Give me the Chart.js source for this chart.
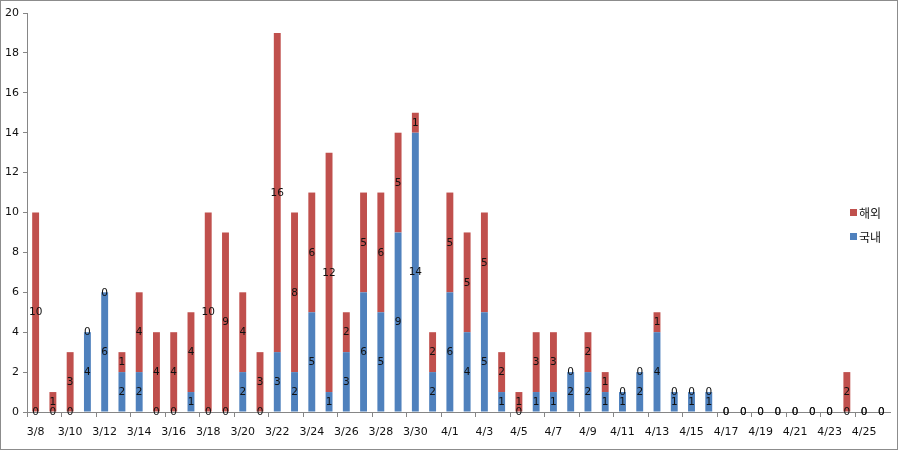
<!DOCTYPE html>
<html>
<head>
<meta charset="utf-8">
<script src="https://cdn.jsdelivr.net/npm/chart.js@4/dist/chart.umd.min.js"></script>
<style>
  html, body { margin: 0; padding: 0; background: #fff; }
  #wrap { width: 900px; height: 452px; }
</style>
</head>
<body>
<div id="wrap"><canvas id="chart" width="900" height="452"></canvas></div>
<script>
// ── Data ─────────────────────────────────────────────
const days = [
  "3/8","3/9","3/10","3/11","3/12","3/13","3/14","3/15","3/16","3/17",
  "3/18","3/19","3/20","3/21","3/22","3/23","3/24","3/25","3/26","3/27",
  "3/28","3/29","3/30","3/31","4/1","4/2","4/3","4/4","4/5","4/6",
  "4/7","4/8","4/9","4/10","4/11","4/12","4/13","4/14","4/15","4/16",
  "4/17","4/18","4/19","4/20","4/21","4/22","4/23","4/24","4/25","4/26"
];
// 국내 (domestic)
const domestic = [
  0,0,0,4,6,2,2,0,0,1,
  0,0,2,0,3,2,5,1,3,6,
  5,9,14,2,6,4,5,1,0,1,
  1,2,2,1,1,2,4,1,1,1,
  0,0,0,0,0,0,0,0,0,0
];
// 해외 (overseas)
const overseas = [
  10,1,3,0,0,1,4,4,4,4,
  10,9,4,3,16,8,6,12,2,5,
  6,5,1,2,5,5,5,2,1,3,
  3,0,2,1,0,0,1,0,0,0,
  0,0,0,0,0,0,0,2,0,0
];
const yTicks = [0, 2, 4, 6, 8, 10, 12, 14, 16, 18, 20];

const RED  = "#c0504d";
const BLUE = "#4f81bd";
const AXIS = "#868686";
const FONT = "'DejaVu Sans', Verdana, sans-serif";

// ── Plugins ──────────────────────────────────────────
const frame = {
  id: "frame",
  beforeDraw(chart) {
    const c = chart.ctx;
    c.save();
    c.fillStyle = "#fff";
    c.fillRect(0, 0, chart.width, chart.height);
    c.strokeStyle = "#8c8c8c";
    c.lineWidth = 1;
    c.strokeRect(0.5, 0.5, chart.width - 3, chart.height - 3);
    c.restore();
  }
};

const valueLabels = {
  id: "valueLabels",
  afterDatasetsDraw(chart) {
    const c = chart.ctx;
    c.save();
    c.font = "10.5px " + FONT;
    c.fillStyle = "#111";
    c.textAlign = "center";
    c.textBaseline = "middle";
    chart.data.datasets.forEach((ds, di) => {
      const meta = chart.getDatasetMeta(di);
      meta.data.forEach((bar, i) => {
        const y = (bar.y + bar.base) / 2;
        c.fillText(String(ds.data[i]), bar.x, y + 0.5);
      });
    });
    c.restore();
  }
};

const sideLegend = {
  id: "sideLegend",
  afterDraw(chart) {
    const c = chart.ctx;
    const items = [["해외", RED, 213], ["국내", BLUE, 237]];
    c.save();
    c.font = "12px 'Noto Sans CJK KR', sans-serif";
    c.textBaseline = "middle";
    items.forEach(([txt, col, y]) => {
      c.fillStyle = col;
      c.fillRect(850, y - 4, 7, 7);
      c.fillStyle = "#111";
      c.fillText(txt, 859, y);
    });
    c.restore();
  }
};

// ── Chart ────────────────────────────────────────────
new Chart(document.getElementById("chart"), {
  type: "bar",
  data: {
    labels: days,
    datasets: [
      { label: "국내", data: domestic, backgroundColor: BLUE,
        categoryPercentage: 1, barPercentage: 0.4 },
      { label: "해외", data: overseas, backgroundColor: RED,
        categoryPercentage: 1, barPercentage: 0.4 }
    ]
  },
  options: {
    responsive: false,
    animation: false,
    layout: { padding: { left: 0, top: 13, right: 10, bottom: 0 } },
    plugins: { legend: { display: false }, tooltip: { enabled: false } },
    scales: {
      x: {
        stacked: true,
        afterFit: s => { s.height = 40; },
        border: { color: AXIS },
        grid: {
          offset: true,
          drawOnChartArea: false,
          tickLength: 5,
          color: ctx => (ctx.index % 2 === 0 ? AXIS : "rgba(0,0,0,0)")
        },
        ticks: {
          autoSkip: false,
          maxRotation: 0,
          padding: 9,
          color: "#111",
          font: { family: FONT, size: 11 },
          callback: (v, i) => (i % 2 === 0 ? days[i] : "")
        }
      },
      y: {
        stacked: true,
        min: yTicks[0],
        max: yTicks[yTicks.length - 1],
        afterFit: s => { s.width = 27; },
        afterBuildTicks: s => { s.ticks = yTicks.map(v => ({ value: v })); },
        border: { color: AXIS },
        grid: { drawOnChartArea: false, tickLength: 4, color: AXIS },
        ticks: {
          padding: 4,
          color: "#111",
          font: { family: FONT, size: 11 }
        }
      }
    }
  },
  plugins: [frame, valueLabels, sideLegend]
});
</script>
</body>
</html>
